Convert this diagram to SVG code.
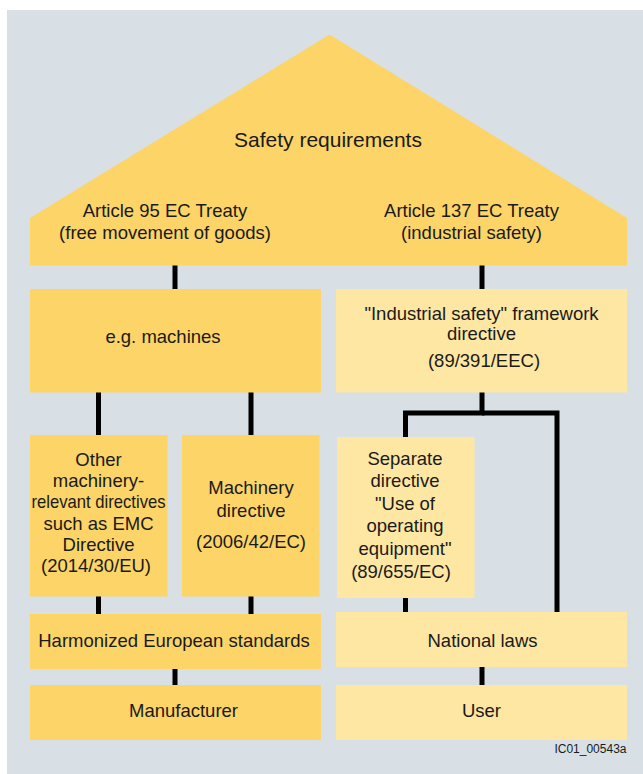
<svg xmlns="http://www.w3.org/2000/svg" width="643" height="774" viewBox="0 0 643 774">
  <style>
    .dark { fill: #fcd468; }
    .light { fill: #fee7a2; }
    .t { font-family: "Liberation Sans", Arial, sans-serif; font-size: 18.5px; fill: #1a1a1a; text-anchor: middle; }
    .big { font-size: 21px; }
    .small { font-size: 12px; text-anchor: end; }
    .wire { stroke: #000; stroke-width: 5; fill: none; }
  </style>
  <rect x="0" y="0" width="643" height="774" fill="#ffffff"/>
  <rect x="7" y="10" width="636" height="764" fill="#d8e0e6"/>

  <!-- connectors -->
  <g id="connectors" class="wire">
    <line x1="175" y1="264" x2="175" y2="290"/>
    <line x1="482" y1="264" x2="482" y2="290"/>
    <line x1="98.5" y1="392" x2="98.5" y2="436"/>
    <line x1="251" y1="392" x2="251" y2="436"/>
    <polyline points="482,392 482,413 405.5,413 405.5,438"/>
    <polyline points="482,413 557,413 557,613"/>
    <line x1="98.5" y1="596" x2="98.5" y2="615"/>
    <line x1="251" y1="596" x2="251" y2="615"/>
    <line x1="405.5" y1="597" x2="405.5" y2="613"/>
    <line x1="175" y1="668" x2="175" y2="686"/>
    <line x1="482" y1="666" x2="482" y2="686"/>
  </g>

  <!-- roof -->
  <g id="roof">
    <polygon class="dark" points="329.5,34.5 627,218 627,265.5 30,265.5 30,218"/>
    <text class="t big" x="328" y="146.5">Safety requirements</text>
    <text class="t" x="165" y="217">Article 95 EC Treaty</text>
    <text class="t" x="165" y="239">(free movement of goods)</text>
    <text class="t" x="471.5" y="217">Article 137 EC Treaty</text>
    <text class="t" x="471.5" y="239">(industrial safety)</text>
  </g>

  <g id="machines">
    <rect class="dark" x="30" y="289" width="291" height="103.5"/>
    <text class="t" x="163" y="343">e.g. machines</text>
  </g>

  <g id="framework">
    <rect class="light" x="336" y="289" width="291" height="103.5"/>
    <text class="t" x="481.5" y="320">"Industrial safety" framework</text>
    <text class="t" x="481.5" y="339.5">directive</text>
    <text class="t" x="484" y="366.5">(89/391/EEC)</text>
  </g>

  <g id="other-directives">
    <rect class="dark" x="30" y="435" width="137.5" height="161.5"/>
    <text class="t" x="98.5" y="465.5">Other</text>
    <text class="t" x="98.5" y="486.5">machinery-</text>
    <text class="t" x="98.5" y="507.5" textLength="134" lengthAdjust="spacingAndGlyphs">relevant directives</text>
    <text class="t" x="98.5" y="529.5">such as EMC</text>
    <text class="t" x="98.5" y="550.5">Directive</text>
    <text class="t" x="96" y="571.5">(2014/30/EU)</text>
  </g>

  <g id="machinery-directive">
    <rect class="dark" x="182" y="435" width="137.5" height="161.5"/>
    <text class="t" x="251" y="494">Machinery</text>
    <text class="t" x="251" y="516.5">directive</text>
    <text class="t" x="251" y="548">(2006/42/EC)</text>
  </g>

  <g id="separate-directive">
    <rect class="light" x="337" y="437" width="137.5" height="161"/>
    <text class="t" x="405" y="465">Separate</text>
    <text class="t" x="405" y="486.5">directive</text>
    <text class="t" x="405" y="509.5">"Use of</text>
    <text class="t" x="405" y="532">operating</text>
    <text class="t" x="405" y="554.5">equipment"</text>
    <text class="t" x="401" y="577.5">(89/655/EC)</text>
  </g>

  <g id="harmonized-standards">
    <rect class="dark" x="30" y="614" width="291" height="55"/>
    <text class="t" x="174" y="646.5">Harmonized European standards</text>
  </g>

  <g id="national-laws">
    <rect class="light" x="336" y="612" width="291" height="55"/>
    <text class="t" x="482.5" y="646.5">National laws</text>
  </g>

  <g id="manufacturer">
    <rect class="dark" x="30" y="685" width="291" height="55"/>
    <text class="t" x="183.5" y="716.5">Manufacturer</text>
  </g>

  <g id="user">
    <rect class="light" x="336" y="685" width="291" height="55"/>
    <text class="t" x="481.5" y="716.5">User</text>
  </g>

  <text class="t small" x="626.5" y="753">IC01_00543a</text>
</svg>
